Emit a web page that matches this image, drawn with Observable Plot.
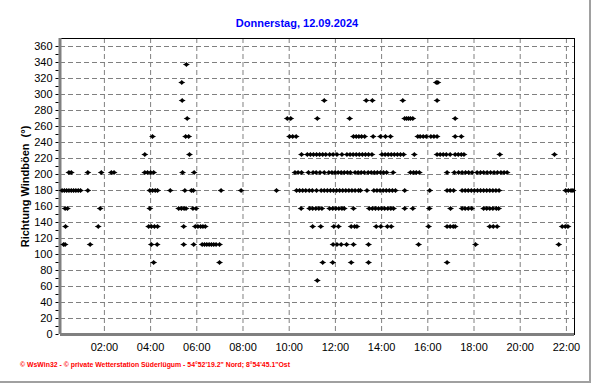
<!DOCTYPE html>
<html><head><meta charset="utf-8">
<script src="https://cdn.jsdelivr.net/npm/d3@7"></script>
<script src="https://cdn.jsdelivr.net/npm/@observablehq/plot@0.6"></script>
<style>
body{margin:0;background:#fff;}
#wrap{position:relative;width:592px;height:384px;overflow:hidden;background:#fff;font-family:"Liberation Sans",Arial,sans-serif;}
#title{position:absolute;left:0;top:17px;width:594px;text-align:center;font-weight:bold;font-size:11px;line-height:13px;color:#0000ff;}
#chart{position:absolute;left:0;top:0;}
#foot{position:absolute;left:0;top:352px;}
#edgeR{position:absolute;left:589px;top:0;width:2px;height:383px;background:#a0a0a0;}
#edgeB{position:absolute;left:0;top:381px;width:591px;height:2px;background:#a0a0a0;}
</style></head>
<body>
<div id="wrap">
  <div id="chart"></div>
  <div id="title">Donnerstag, 12.09.2024</div>
  <svg id="foot" width="592" height="20"><text x="20" y="14.5" textLength="270" lengthAdjust="spacingAndGlyphs" fill="#ff0000" font-weight="bold" font-size="7" font-family="Liberation Sans, Arial, sans-serif">© WsWin32  -  © private Wetterstation Süderlügum  -  54°52'19.2" Nord; 8°54'45.1"Ost</text></svg>
  <div id="edgeR"></div><div id="edgeB"></div>
</div>
<script>
// ---- data: wind gust direction (degrees) and the times it was recorded ----
const t337 = ["05:33"];
const t315 = ["05:21","16:22","16:26"];
const t292 = ["05:22","11:31","13:20","13:36","14:55","16:24"];
const t270 = ["05:35","09:55","10:04","11:13","12:37","15:00","15:05","15:10","15:15","15:21","17:11"];
const t247 = ["04:05","05:31","05:39","10:01","10:09","10:18","12:47","12:54","13:01","13:08","13:16","13:38","13:57","14:10","14:23","15:34","15:40","15:48","15:56","16:08","16:16","16:24","17:11","17:27"];
const t225 = ["03:45","05:41","10:32","10:47","10:55","11:03","11:11","11:19","11:27","11:35","11:45","11:54","12:04","12:17","12:30","12:38","12:46","12:54","13:02","13:10","13:18","13:26","13:35","14:01","14:09","14:17","14:25","14:33","14:41","14:49","14:57","15:25","16:24","16:32","16:40","16:48","16:58","17:11","17:19","17:27","17:34","19:07","21:29"];
const t202 = ["00:28","00:34","01:17","01:52","02:18","02:25","03:45","03:52","04:00","04:08","05:23","05:53","10:15","10:23","10:32","10:50","11:02","11:10","11:20","11:31","11:43","11:51","11:59","12:07","12:15","12:23","12:31","12:39","12:51","12:59","13:07","13:15","13:25","13:33","13:41","13:49","13:57","14:05","14:13","14:30","15:15","15:23","15:30","15:38","16:50","17:09","17:20","17:29","17:38","17:46","17:55","18:08","18:17","18:25","18:34","18:43","18:52","19:01","19:10","19:18","19:26"];
const t180 = ["00:10","00:16","00:22","00:28","00:34","00:40","00:46","00:52","00:58","01:17","03:58","04:05","04:12","04:18","04:51","05:29","05:46","05:51","07:03","07:55","09:27","10:19","10:27","10:35","10:43","10:52","11:00","11:11","11:23","11:31","11:39","11:47","11:55","12:03","12:11","12:19","12:27","12:35","12:43","12:51","13:00","13:05","13:22","13:40","13:48","13:56","14:04","14:12","14:20","14:28","14:36","15:00","16:05","16:50","16:58","17:07","17:29","17:37","17:45","17:53","18:01","18:09","18:17","18:25","18:33","18:41","18:49","18:57","19:05","21:58","22:05","22:12","22:17"];
const t157 = ["00:18","00:24","01:49","03:58","05:13","05:20","05:27","05:32","05:50","05:58","10:31","10:53","11:01","11:09","11:17","11:25","11:45","11:53","12:01","12:09","12:17","12:23","12:47","13:28","13:36","13:44","13:52","14:00","14:08","14:16","14:24","14:31","15:00","15:21","16:04","16:59","17:29","17:37","17:45","17:54","18:25","18:33","18:41","18:49","18:58","19:04"];
const t135 = ["00:19","01:44","03:55","04:02","04:10","04:18","05:26","05:56","06:03","06:10","06:16","06:22","11:01","11:22","11:56","12:08","12:41","12:50","12:56","13:46","13:58","14:15","14:25","16:02","16:50","16:58","17:06","17:11","18:41","18:50","19:00","21:49","21:57","22:04"];
const t112 = ["00:14","00:18","01:23","04:02","04:17","05:26","05:52","06:14","06:20","06:26","06:32","06:38","06:44","06:50","06:59","11:54","12:04","12:15","12:29","12:47","13:26","15:36","18:04","21:40"];
const t90  = ["04:08","06:59","11:27","11:53","12:41","13:26","16:50"];
const t67  = ["11:13"];

const directions = [337.5, 315, 292.5, 270, 247.5, 225, 202.5, 180, 157.5, 135, 112.5, 90, 67.5];
const timeLists  = [t337, t315, t292, t270, t247, t225, t202, t180, t157, t135, t112, t90, t67];

const xTickLabels = ["02:00","04:00","06:00","08:00","10:00","12:00","14:00","16:00","18:00","20:00","22:00"];
const yTickValues = [0,20,40,60,80,100,120,140,160,180,200,220,240,260,280,300,320,340,360];
const xStart = "00:06", xEnd = "22:21";

const T = s => { const [h, m] = s.split(":").map(Number); return new Date(Date.UTC(2024, 8, 12, h, m)); };

const points = [];
directions.forEach((d, i) => timeLists[i].forEach(s => points.push({time: T(s), dir: d})));

const gust = {draw(ctx){
  ctx.moveTo(-3.5,0); ctx.lineTo(-1.5,-1); ctx.lineTo(0,-2.5); ctx.lineTo(1.5,-1);
  ctx.lineTo(3.5,0); ctx.lineTo(1.5,1); ctx.lineTo(0,2.5); ctx.lineTo(-1.5,1); ctx.closePath();
}};
const tickL = {draw(ctx){ ctx.moveTo(-3,0); ctx.lineTo(0,0); }};

const xTicks = xTickLabels.map(T);
const minorY = d3.range(0, 361, 10);

const chart = Plot.plot({
  width: 592, height: 356,
  marginTop: 38, marginBottom: 22, marginLeft: 60, marginRight: 18,
  style: {fontFamily: "Liberation Sans, Arial, sans-serif", fontSize: "11px", background: "transparent", color: "#000"},
  x: {type: "utc", domain: [T(xStart), T(xEnd)]},
  y: {domain: [0, 370]},
  marks: [
    Plot.gridX(xTicks, {stroke: "#808080", strokeOpacity: 1, strokeDasharray: "5,3"}),
    Plot.gridY(yTickValues, {stroke: "#808080", strokeOpacity: 1, strokeDasharray: "5,3"}),
    Plot.frame({stroke: "#000"}),
    Plot.ruleX([T(xStart)], {stroke: "#808080", strokeWidth: 3, dx: -0.5}),
    Plot.ruleY([0], {stroke: "#808080", strokeWidth: 3}),
    Plot.dot(minorY, {x: () => T(xStart), y: d => d, symbol: tickL, stroke: "#000", strokeWidth: 1, dx: -2}),
    Plot.axisX(xTicks, {tickSize: 0, tickPadding: 9, tickFormat: d3.utcFormat("%H:%M"), label: null}),
    Plot.axisY(yTickValues, {tickSize: 0, tickPadding: 8, label: null}),
    Plot.text(["Richtung Windböen\u00a0 (°)"], {frameAnchor: "left", dx: -35, rotate: -90, fontWeight: "bold", fontSize: 11, textAnchor: "middle"}),
    Plot.dot(points, {x: "time", y: "dir", symbol: gust, fill: "#000", stroke: "none"})
  ]
});
document.getElementById("chart").appendChild(chart);
</script>
</body></html>
